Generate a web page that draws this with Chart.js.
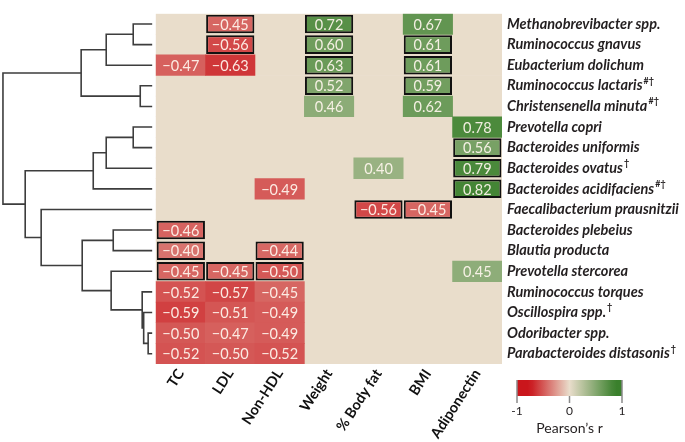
<!DOCTYPE html>
<html>
<head>
<meta charset="utf-8">
<script src="https://cdn.jsdelivr.net/npm/chart.js@4.4.0/dist/chart.umd.min.js"></script>
<style>
  html, body { margin: 0; padding: 0; background: #fff; }
  #wrap { width: 685px; height: 442px; }
</style>
</head>
<body>
<div id="wrap"><canvas id="c"></canvas></div>
<script>
// taxa, in dendrogram order (top to bottom)
const taxa = [
  "Methanobrevibacter spp.", "Ruminococcus gnavus", "Eubacterium dolichum",
  "Ruminococcus lactaris", "Christensenella minuta", "Prevotella copri",
  "Bacteroides uniformis", "Bacteroides ovatus", "Bacteroides acidifaciens",
  "Faecalibacterium prausnitzii", "Bacteroides plebeius", "Blautia producta",
  "Prevotella stercorea", "Ruminococcus torques", "Oscillospira spp.",
  "Odoribacter spp.", "Parabacteroides distasonis"
];
const marks = ["", "", "", "#†", "#†", "", "", "†", "#†", "", "", "", "", "", "†", "", "†"];
const measures = ["TC", "LDL", "Non-HDL", "Weight", "% Body fat", "BMI", "Adiponectin"];

// Pearson's r, one row per taxon, columns as in measures (null = not significant)
const rho = [
  [null, -0.45, null, 0.72, null, 0.67, null],
  [null, -0.56, null, 0.60, null, 0.61, null],
  [-0.47, -0.63, null, 0.63, null, 0.61, null],
  [null, null, null, 0.52, null, 0.59, null],
  [null, null, null, 0.46, null, 0.62, null],
  [null, null, null, null, null, null, 0.78],
  [null, null, null, null, null, null, 0.56],
  [null, null, null, null, 0.40, null, 0.79],
  [null, null, -0.49, null, null, null, 0.82],
  [null, null, null, null, -0.56, -0.45, null],
  [-0.46, null, null, null, null, null, null],
  [-0.40, null, -0.44, null, null, null, null],
  [-0.45, -0.45, -0.50, null, null, null, 0.45],
  [-0.52, -0.57, -0.45, null, null, null, null],
  [-0.59, -0.51, -0.49, null, null, null, null],
  [-0.50, -0.47, -0.49, null, null, null, null],
  [-0.52, -0.50, -0.52, null, null, null, null]
];
// cells outlined in black [row, col]
const boxed = [
  [0, 1], [0, 3], [1, 1], [1, 3], [1, 5], [2, 3], [2, 5], [3, 3], [3, 5],
  [6, 6], [7, 6], [8, 6], [9, 4], [9, 5], [10, 0], [11, 0], [11, 2],
  [12, 0], [12, 1], [12, 2]
];
// hierarchical clustering: [child a, child b, height]; leaves are 0..16, merges numbered from 17
const merges = [
  [0, 1, 0.127], [17, 2, 0.308], [3, 4, 0.080], [18, 19, 0.476],
  [5, 6, 0.127], [21, 7, 0.308], [22, 8, 0.395], [10, 11, 0.261],
  [15, 16, 0.027], [14, 25, 0.057], [13, 26, 0.067], [12, 27, 0.275],
  [24, 28, 0.469], [9, 29, 0.744], [23, 30, 0.851], [20, 31, 1.0]
];

const BEIGE = [233, 221, 203], RED = [202, 22, 28], GREEN = [58, 128, 44];
const LEAF_X = -0.08, ROOT_X = -3.1;

function corColor(v) {
  const t = Math.min(1, Math.abs(v) / (v < 0 ? 0.75 : 0.87));
  const end = v < 0 ? RED : GREEN;
  const c = BEIGE.map((b, i) => Math.round(b + (end[i] - b) * t));
  return `rgb(${c[0]},${c[1]},${c[2]})`;
}

const isBoxed = (r, c) => boxed.some(([br, bc]) => br === r && bc === c);
const plainCells = [], boxedCells = [];
rho.forEach((row, r) => row.forEach((v, c) => {
  if (v === null) return;
  if (isBoxed(r, c)) boxedCells.push({ y: r, x: [c + 0.012, c + 0.988], v });
  else plainCells.push({ y: r, x: [c, c + 1], v });
}));

// dendrogram elbows
const nodes = taxa.map((t, i) => ({ y: i, h: 0 }));
merges.forEach(([a, b, h]) => nodes.push({ y: (nodes[a].y + nodes[b].y) / 2, h }));
const hx = (h) => LEAF_X + (ROOT_X - LEAF_X) * h;
const treeSets = merges.map(([a, b, h]) => {
  const A = nodes[a], B = nodes[b];
  return {
    type: "line", order: 1,
    data: [{ x: hx(A.h), y: A.y }, { x: hx(h), y: A.y }, { x: hx(h), y: B.y }, { x: hx(B.h), y: B.y }],
    borderColor: "#3d3d3d", borderWidth: 1.6, pointRadius: 0, tension: 0, fill: false,
  };
});

const FONT = "Lato, 'Open Sans', sans-serif";
const LABEL_PAD = 5;
const ROW_SIZE = 14.5;

const extras = {
  id: "extras",
  afterDatasetsDraw(chart) {
    const { ctx, scales: { x, y } } = chart;
    ctx.save();
    ctx.font = `14.5px ${FONT}`;
    ctx.textAlign = "center";
    ctx.textBaseline = "middle";
    ctx.fillStyle = "rgba(255,246,238,0.92)";
    rho.forEach((row, r) => row.forEach((v, c) => {
      if (v === null) return;
      const s = (v < 0 ? "\u2212" : "") + Math.abs(v).toFixed(2);
      ctx.fillText(s, x.getPixelForValue(c + 0.5), y.getPixelForValue(r) + 1);
    }));
    ctx.restore();
  },
  afterDraw(chart) {
    const { ctx, scales: { y }, chartArea } = chart;
    ctx.save();
    // superscripts after taxon names
    ctx.fillStyle = "#231f20";
    marks.forEach((m, i) => {
      if (!m) return;
      ctx.font = `italic bold ${ROW_SIZE}px ${FONT}`;
      const w = ctx.measureText(taxa[i]).width;
      ctx.font = `bold 9px ${FONT}`;
      ctx.textAlign = "left";
      ctx.textBaseline = "middle";
      ctx.fillText(m, y.left + LABEL_PAD + w + 1, y.getPixelForValue(i) - 5);
    });
    // colour key
    const L = chartArea.right + 15, R = L + 105, T = chartArea.bottom + 16, H = 16;
    const g = ctx.createLinearGradient(L, 0, R, 0);
    for (let k = 0; k <= 20; k++) g.addColorStop(k / 20, corColor(-1 + k / 10));
    ctx.fillStyle = g;
    ctx.fillRect(L, T, R - L, H);
    ctx.strokeStyle = "#8a8a8a";
    ctx.lineWidth = 1.5;
    [-1, 0, 1].forEach((v) => {
      const px = L + (R - L) * (v + 1) / 2;
      ctx.beginPath();
      ctx.moveTo(px, v === 0 ? T + H : T);
      ctx.lineTo(px, T + H + 7);
      ctx.stroke();
    });
    ctx.fillStyle = "#231f20";
    ctx.font = `12px ${FONT}`;
    ctx.textAlign = "center";
    ctx.textBaseline = "middle";
    [-1, 0, 1].forEach((v) => ctx.fillText(String(v), L + (R - L) * (v + 1) / 2, T + H + 15));
    ctx.font = `14px ${FONT}`;
    ctx.fillText("Pearson\u2019s r", (L + R) / 2, T + H + 32);
    ctx.restore();
  },
};

new Chart(document.getElementById("c"), {
  type: "bar",
  data: {
    datasets: [
      {
        indexAxis: "y", order: 5, grouped: false,
        data: taxa.map((t, i) => ({ y: i, x: [0, measures.length] })),
        backgroundColor: `rgb(${BEIGE.join(",")})`,
        barPercentage: 1, categoryPercentage: 1,
      },
      {
        indexAxis: "y", order: 3, grouped: false,
        data: plainCells,
        backgroundColor: (c) => corColor(c.raw.v),
        barPercentage: 1, categoryPercentage: 1,
      },
      {
        indexAxis: "y", order: 2, grouped: false,
        data: boxedCells,
        backgroundColor: (c) => corColor(c.raw.v),
        borderColor: "#111", borderWidth: 2, borderSkipped: false,
        barPercentage: 0.9, categoryPercentage: 1,
      },
      ...treeSets,
    ],
  },
  options: {
    responsive: true, maintainAspectRatio: false, animation: false,
    layout: { padding: 0 },
    plugins: { legend: { display: false }, tooltip: { enabled: false } },
    scales: {
      x: {
        type: "linear", position: "bottom", min: -3.16, max: measures.length, offset: false,
        grid: { display: false, drawTicks: false }, border: { display: false },
        afterBuildTicks: (s) => { s.ticks = measures.map((m, i) => ({ value: i + 0.5 })); },
        afterFit: (s) => { s.height = 78; },
        ticks: {
          autoSkip: false, maxRotation: 57, minRotation: 57, padding: 2,
          color: "#111", font: { family: FONT, weight: "bold", size: 14.5 },
          callback: (v, i) => measures[i],
        },
      },
      y: {
        type: "linear", position: "right", reverse: true, min: -0.5, max: taxa.length - 0.5, offset: false,
        grid: { display: false, drawTicks: false }, border: { display: false },
        afterBuildTicks: (s) => { s.ticks = taxa.map((t, i) => ({ value: i })); },
        afterFit: (s) => { s.width = 183; },
        ticks: {
          autoSkip: false, padding: LABEL_PAD, color: "#231f20",
          font: { family: FONT, weight: "bold", style: "italic", size: ROW_SIZE },
          callback: (v, i) => taxa[i],
        },
      },
    },
  },
  plugins: [extras],
});
</script>
</body>
</html>
